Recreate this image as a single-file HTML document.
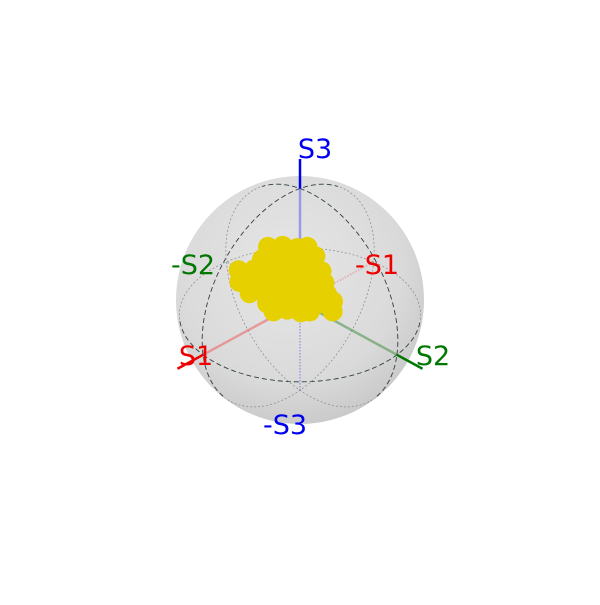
<!DOCTYPE html>
<html><head><meta charset="utf-8"><style>
html,body{margin:0;padding:0;background:#fff;}
svg text{font-family:"DejaVu Sans","Liberation Sans",sans-serif;font-size:27px;}
</style></head><body>
<svg id="c" width="600" height="600">
<defs>
<radialGradient id="sg" cx="0.45" cy="0.38" r="0.65">
<stop offset="0" stop-color="#e6e6e6"/><stop offset="0.7" stop-color="#dadada"/><stop offset="1" stop-color="#c8c8c8"/>
</radialGradient>
</defs>
<circle cx="300" cy="300" r="124" fill="url(#sg)"/>
<g id="grid"></g>
<g id="axesBack"></g>
<g id="axesFront"></g>
<g id="pts"></g>
<text x="315" y="158" text-anchor="middle" fill="#0000ee">S3</text>
<text x="285" y="434" text-anchor="middle" fill="#0000ee">-S3</text>
<text x="193" y="274" text-anchor="middle" fill="#007700">-S2</text>
<text x="377" y="274" text-anchor="middle" fill="#ee0000">-S1</text>
<text x="196" y="365" text-anchor="middle" fill="#ee0000">S1</text>
<text x="433" y="365" text-anchor="middle" fill="#007700">S2</text>
</svg>
<script>
const s1Values=[-0.04,-0.13,-0.22,-0.28, 0.00,-0.08,-0.17,-0.26,-0.33, 0.15,0.05,-0.04,-0.13,-0.22,-0.30,-0.37, 0.15,0.05,-0.04,-0.13,-0.22,-0.30,-0.39, 0.09,0.00,-0.08,-0.17,-0.26,-0.35,-0.41, -0.02,-0.11,-0.19,-0.28,-0.37,-0.45, -0.06,-0.15,-0.24,-0.30,-0.45];
const s2Values=[-0.43,-0.34,-0.25,-0.19, -0.47,-0.39,-0.30,-0.21,-0.14, -0.62,-0.52,-0.43,-0.34,-0.25,-0.17,-0.10, -0.62,-0.52,-0.43,-0.34,-0.25,-0.17,-0.08, -0.56,-0.47,-0.39,-0.30,-0.21,-0.12,-0.06, -0.45,-0.36,-0.28,-0.19,-0.10,-0.02, -0.41,-0.32,-0.23,-0.17,-0.02];
const s3Values=[0.35,0.36,0.34,0.35, 0.23,0.25,0.22,0.23,0.26, 0.12,0.13,0.11,0.12,0.12,0.14,0.11, 0.00,0.01,-0.01,0.00,0.00,0.02,-0.01, -0.12,-0.11,-0.13,-0.12,-0.12,-0.09,-0.13, -0.23,-0.22,-0.25,-0.23,-0.23,-0.21, -0.32,-0.30,-0.33,-0.32,-0.32];

const CX=300,CY=302,F=515,D=4.35;
const EL=33*Math.PI/180, AZ=Math.PI/4;
const se=Math.sin(EL),ce=Math.cos(EL);
function depth(a,b,c){return ce*Math.cos(AZ)*a+ce*Math.sin(AZ)*b+se*c;}
function px(a,b,c){
  const x=-Math.sin(AZ)*a+Math.cos(AZ)*b;
  const y=-se*Math.cos(AZ)*a-se*Math.sin(AZ)*b+ce*c;
  const s=F/(D-depth(a,b,c));
  return [CX+s*x,CY-s*y];
}
const NS="http://www.w3.org/2000/svg";
function mk(t,attrs,parent){const e=document.createElementNS(NS,t);for(const k in attrs)e.setAttribute(k,attrs[k]);parent.appendChild(e);return e;}

const grid=document.getElementById('grid');
function circle(f,name){
  let front=[],back=[];
  for(let i=0;i<=240;i++){const t=i/240*2*Math.PI;const p=f(t);const q=px(...p);const d=depth(...p);
    if(d>=1/D){front.push(q);back.push(null);}else{back.push(q);front.push(null);}}
  [[front,'#2f3f3f','5,3',0.9],[back,'#888','2,2',0.7]].forEach(([arr,col,dash,w])=>{
    let d='',pen=false;arr.forEach(p=>{if(!p){pen=false;return;}d+=(pen?'L':'M')+p[0].toFixed(1)+','+p[1].toFixed(1);pen=true;});
    const el=mk('path',{d:d,fill:'none',stroke:col,'stroke-width':w,'stroke-dasharray':dash},grid);
    
    
  });
}
circle(t=>[Math.cos(t),Math.sin(t),0],'equator-circle');
circle(t=>[Math.cos(t),0,Math.sin(t)],'s1-s3-meridian');
circle(t=>[0,Math.cos(t),Math.sin(t)],'s2-s3-meridian');

const ab=document.getElementById('axesBack'),af=document.getElementById('axesFront');
const axes=[[[1,0,0],'#e55','#e00','s1'],[[0,1,0],'#3a8a3a','#070','s2'],[[0,0,1],'#55e','#00e','s3']];
axes.forEach(([v,col,solid,n])=>{
  const o=px(0,0,0),p=px(...v),m=px(-v[0],-v[1],-v[2]);
  const ext=px(v[0]*1.22,v[1]*1.22,v[2]*1.22);
  let l=mk('line',{x1:o[0],y1:o[1],x2:m[0],y2:m[1],stroke:col,'stroke-width':2,'stroke-dasharray':'1.5,1.5',opacity:0.35},ab);
  
  
  l=mk('line',{x1:o[0],y1:o[1],x2:p[0],y2:p[1],stroke:col,'stroke-width':2.5,opacity:0.5},af);
  
  
  l=mk('line',{x1:p[0],y1:p[1],x2:ext[0],y2:ext[1],stroke:solid,'stroke-width':2.5},af);
  
  
});

const pg=document.getElementById('pts');
for(let i=0;i<s1Values.length;i++){
  const q=px(s1Values[i],s2Values[i],s3Values[i]);
  const c=mk('circle',{cx:q[0].toFixed(1),cy:q[1].toFixed(1),r:10,fill:'#e6d000'},pg);
  
  
}
</script>
</body></html>
